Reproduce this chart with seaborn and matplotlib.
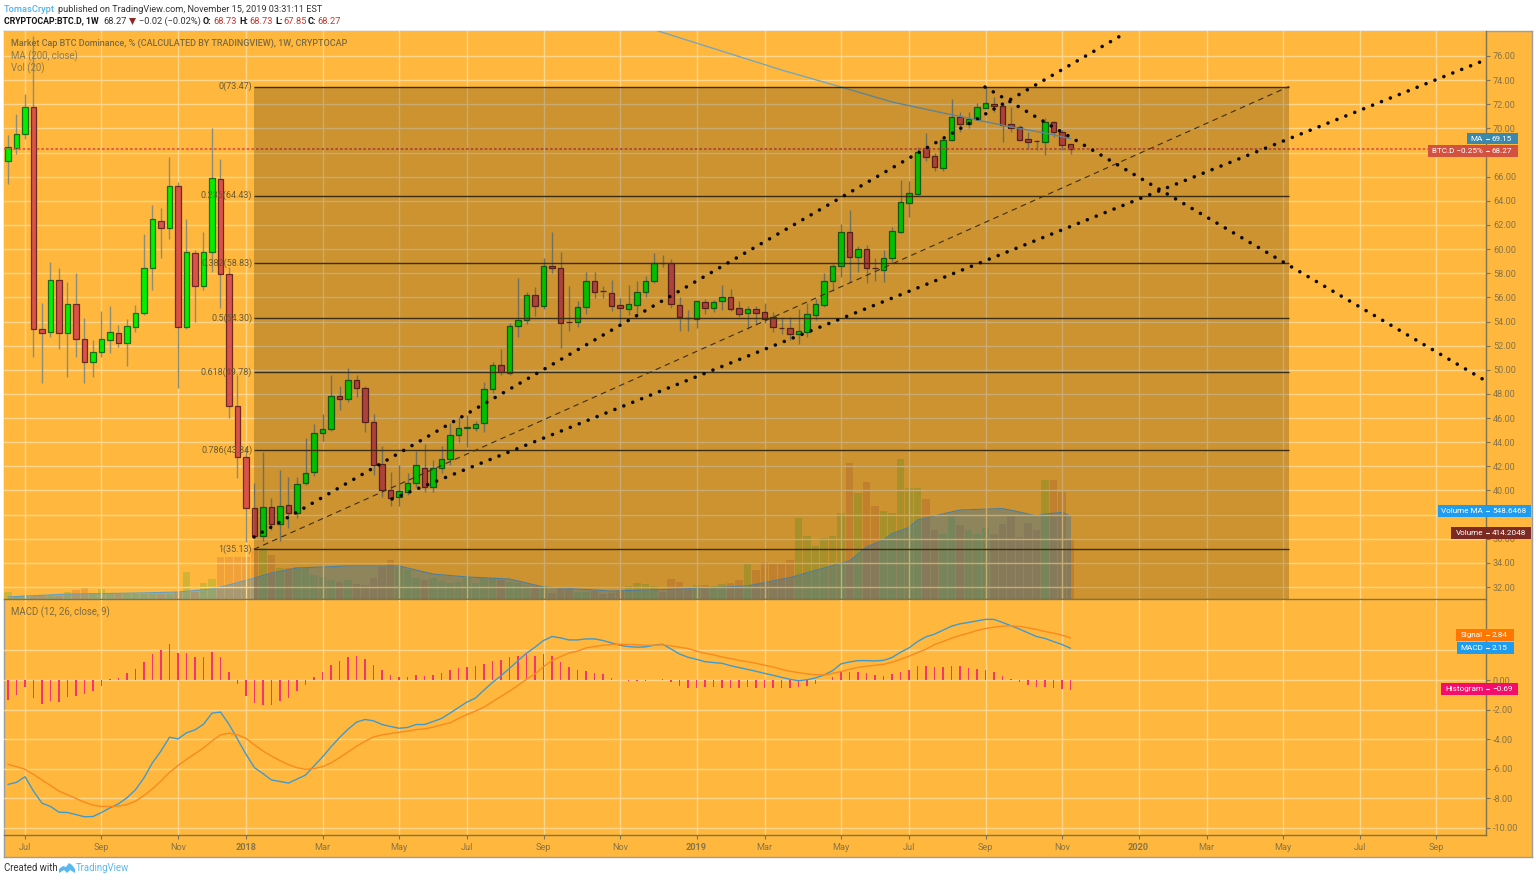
#!/usr/bin/env python3
import numpy as np
import pandas as pd
import matplotlib
matplotlib.use('Agg')
import matplotlib.pyplot as plt
from matplotlib.patches import Rectangle, Polygon
import seaborn as sns

W, H = 1536, 881

# weekly candles, first bar is the week of 2017-06-19
opens = [67.30, 68.38, 69.54, 71.77, 53.38, 53.13, 57.44, 53.05, 55.45, 52.55, 50.65, 51.47, 52.47, 53.05, 52.22, 53.55,
         54.70, 58.44, 62.33, 61.75, 65.23, 53.55, 59.68, 56.94, 59.76, 65.81, 57.94, 47.02, 42.78, 38.55, 36.23, 38.63,
         37.23, 38.80, 38.14, 40.62, 41.53, 44.77, 45.10, 47.83, 47.58, 49.15, 48.49, 45.68, 42.20, 40.04, 39.46, 39.88,
         40.62, 41.86, 40.29, 41.86, 42.61, 44.60, 45.18, 45.18, 45.59, 48.41, 50.40, 49.73, 53.63, 54.13, 56.20, 55.29,
         58.60, 58.44, 53.96, 53.96, 55.21, 57.36, 56.53, 56.36, 55.37, 55.04, 55.37, 56.45, 57.36, 58.85, 58.85, 55.37,
         54.29, 54.21, 55.62, 55.12, 55.70, 56.03, 55.12, 54.70, 55.04, 54.79, 54.38, 53.47, 53.47, 52.97, 53.13, 54.54,
         55.37, 57.36, 58.60, 61.42, 59.35, 60.01, 58.44, 58.27, 59.27, 61.42, 63.82, 64.57, 68.38, 67.72, 66.72, 69.04,
         70.95, 70.37, 70.78, 71.69, 72.02, 71.86, 70.37, 70.12, 69.12, 68.96, 68.88, 70.53, 69.70, 68.73]
closes = [68.46, 69.54, 71.77, 53.38, 53.05, 57.44, 53.05, 55.45, 52.55, 50.65, 51.47, 52.55, 53.13, 52.22, 53.63, 54.70,
          58.44, 62.50, 61.75, 65.23, 53.55, 59.76, 56.94, 59.76, 65.89, 57.94, 47.02, 42.78, 38.55, 36.23, 38.63, 37.23,
          38.72, 38.14, 40.54, 41.45, 44.77, 45.10, 47.83, 47.58, 49.15, 48.49, 45.68, 42.11, 40.04, 39.38, 39.96, 40.62,
          42.11, 40.29, 41.86, 42.61, 44.60, 45.18, 45.25, 45.51, 48.41, 50.40, 49.82, 53.63, 54.13, 56.20, 55.29, 58.60,
          58.44, 53.88, 53.92, 55.21, 57.36, 56.45, 56.50, 55.29, 55.12, 55.45, 56.45, 57.36, 58.85, 58.82, 55.45, 54.38,
          54.27, 55.70, 55.12, 55.62, 56.03, 55.04, 54.62, 55.04, 54.70, 54.21, 53.55, 53.43, 52.97, 53.21, 54.62, 55.45,
          57.36, 58.60, 61.42, 59.35, 60.01, 58.44, 58.40, 59.27, 61.50, 63.90, 64.65, 68.05, 67.63, 66.80, 69.04, 70.95,
          70.37, 70.78, 71.77, 72.11, 71.86, 70.28, 70.03, 69.04, 68.88, 68.94, 70.53, 69.70, 68.63, 68.27]
highs = [69.46, 71.20, 72.85, 77.66, 55.54, 58.93, 58.44, 57.28, 58.02, 54.29, 52.47, 54.87, 55.29, 53.71, 54.21, 55.37,
         61.25, 63.66, 63.41, 67.63, 65.56, 62.50, 59.93, 61.42, 70.03, 67.47, 58.52, 49.57, 43.61, 40.62, 43.19, 39.38,
         41.70, 41.12, 41.12, 44.35, 45.51, 46.34, 49.57, 48.66, 50.15, 49.57, 48.66, 46.34, 43.69, 41.53, 42.11, 41.45,
         43.27, 43.85, 42.53, 43.69, 45.59, 46.09, 46.26, 45.76, 48.99, 50.65, 51.72, 53.88, 57.61, 56.45, 56.86, 59.27,
         61.42, 59.76, 56.94, 55.70, 58.10, 58.10, 56.94, 57.44, 55.95, 57.03, 57.36, 57.77, 59.68, 59.51, 59.18, 56.03,
         54.96, 55.78, 55.87, 55.78, 57.03, 56.69, 55.70, 55.29, 55.29, 55.54, 54.79, 54.38, 54.38, 55.04, 55.54, 55.87,
         58.02, 58.77, 62.08, 63.24, 60.26, 60.34, 59.27, 59.93, 61.83, 65.73, 65.64, 68.46, 69.62, 67.96, 69.29, 72.44,
         71.36, 71.36, 72.11, 73.47, 72.60, 72.11, 71.77, 70.28, 69.70, 69.04, 70.86, 70.61, 69.87, 68.73]
lows = [65.40, 67.88, 69.12, 51.06, 48.91, 52.72, 51.72, 49.41, 51.06, 48.91, 49.41, 51.06, 51.39, 51.89, 50.31, 53.13,
        54.54, 56.61, 59.27, 60.84, 48.50, 53.38, 53.96, 56.61, 58.10, 55.12, 46.01, 41.04, 35.73, 36.07, 35.82, 36.73,
        35.82, 36.90, 37.72, 40.46, 41.20, 44.10, 44.93, 46.67, 47.33, 47.75, 44.85, 41.29, 39.46, 38.72, 38.72, 39.63,
        40.29, 39.88, 39.88, 41.45, 42.11, 44.02, 43.61, 44.93, 44.85, 48.08, 49.57, 49.57, 52.72, 53.80, 54.46, 55.04,
        58.02, 51.81, 53.21, 53.55, 54.62, 55.95, 55.95, 54.87, 53.71, 54.54, 54.54, 56.03, 57.19, 58.52, 55.12, 53.21,
        53.21, 53.47, 54.62, 54.79, 54.96, 54.87, 54.38, 53.38, 53.71, 53.88, 53.13, 52.97, 52.47, 52.14, 52.72, 54.13,
        55.21, 56.53, 57.69, 57.28, 58.10, 57.19, 57.36, 57.28, 58.93, 61.34, 62.66, 64.49, 67.30, 66.47, 66.47, 68.96,
        69.70, 70.03, 70.70, 71.69, 71.36, 68.88, 69.70, 68.96, 68.30, 68.22, 67.80, 69.29, 68.22, 67.85]

volume = [48, 21, 28, 21, 28, 28, 21, 48, 62, 76, 41, 69, 41, 35, 35, 35, 35, 35, 35, 35, 48, 186, 48, 110, 138, 290,
          290, 290, 290, 352, 352, 304, 214, 214, 221, 221, 166, 152, 131, 117, 131, 103, 97, 145, 221, 269, 221, 200,
          145, 131, 145, 124, 110, 117, 145, 110, 145, 145, 131, 117, 110, 97, 90, 90, 41, 76, 69, 48, 48, 55, 35, 41,
          55, 90, 110, 103, 90, 48, 138, 117, 83, 97, 97, 90, 103, 110, 131, 242, 200, 255, 248, 248, 269, 559, 435,
          366, 421, 435, 593, 938, 731, 807, 642, 607, 593, 966, 766, 766, 690, 476, 448, 573, 511, 476, 448, 490, 448,
          518, 573, 428, 525, 476, 821, 821, 738, 414]

# volume MA, read at the weeks where the curve bends
vol_ma_weeks = [0, 7, 15, 20, 24, 26, 29, 31, 34, 40, 46, 50, 54, 59, 63, 71, 79, 87, 92, 99, 101, 103, 104, 106, 107, 109,
                110, 112, 117, 119, 121, 122, 124, 125]
vol_ma = [14, 34, 41, 48, 69, 97, 145, 179, 214, 228, 228, 172, 152, 138, 83, 55, 69, 90, 148, 262, 359, 407, 451, 493,
          545, 573, 587, 614, 624, 600, 573, 587, 597, 573]

# MA 200 on the price pane
ma_weeks = [75, 84, 91, 98, 104, 110, 114, 118, 122, 125]
ma_200 = [78.40, 76.40, 74.84, 73.43, 72.19, 71.28, 70.70, 70.12, 69.62, 69.15]

macd = [-7.06, -6.92, -6.54, -7.51, -8.33, -8.55, -8.94, -8.96, -9.10, -9.25, -9.23, -8.96, -8.64, -8.37, -7.96, -7.42,
        -6.61, -5.59, -4.80, -3.87, -3.98, -3.57, -3.37, -2.99, -2.24, -2.17, -2.99, -4.00, -5.02, -5.93, -6.33, -6.76,
        -6.86, -6.97, -6.70, -6.43, -5.81, -5.20, -4.52, -3.89, -3.33, -2.85, -2.67, -2.76, -3.01, -3.14, -3.26, -3.21,
        -3.01, -3.01, -2.81, -2.60, -2.24, -1.86, -1.49, -1.22, -0.68, -0.16, 0.29, 0.79, 1.31, 1.81, 2.22, 2.67, 2.94,
        2.85, 2.71, 2.71, 2.78, 2.78, 2.67, 2.51, 2.35, 2.26, 2.22, 2.24, 2.35, 2.42, 2.10, 1.76, 1.54, 1.40, 1.24, 1.18,
        1.13, 0.97, 0.84, 0.72, 0.59, 0.45, 0.32, 0.18, 0.05, -0.05, 0.02, 0.14, 0.34, 0.63, 1.09, 1.22, 1.31, 1.31, 1.29,
        1.33, 1.52, 1.88, 2.17, 2.60, 2.92, 3.10, 3.37, 3.64, 3.80, 3.89, 4.00, 4.10, 4.10, 3.89, 3.67, 3.44, 3.19, 2.94,
        2.81, 2.60, 2.40, 2.15]
signal = [-5.70, -5.86, -6.04, -6.38, -6.76, -7.13, -7.51, -7.76, -8.01, -8.26, -8.46, -8.55, -8.55, -8.53, -8.42, -8.19,
          -7.81, -7.35, -6.83, -6.24, -5.79, -5.36, -4.98, -4.59, -4.12, -3.71, -3.60, -3.71, -3.94, -4.39, -4.80, -5.14,
          -5.45, -5.72, -5.93, -6.04, -5.99, -5.86, -5.61, -5.25, -4.86, -4.48, -4.14, -3.85, -3.71, -3.62, -3.53, -3.46,
          -3.35, -3.30, -3.19, -3.03, -2.90, -2.60, -2.33, -2.10, -1.83, -1.47, -1.11, -0.75, -0.36, 0.05, 0.41, 0.90, 1.31,
          1.58, 1.83, 1.95, 2.17, 2.26, 2.35, 2.40, 2.42, 2.40, 2.38, 2.35, 2.35, 2.38, 2.31, 2.22, 2.13, 1.95, 1.81, 1.70,
          1.56, 1.45, 1.33, 1.24, 1.13, 1.00, 0.88, 0.72, 0.59, 0.50, 0.41, 0.36, 0.34, 0.45, 0.57, 0.72, 0.86, 0.93, 1.00,
          1.06, 1.20, 1.40, 1.61, 1.86, 2.08, 2.40, 2.60, 2.83, 3.01, 3.17, 3.35, 3.48, 3.57, 3.64, 3.67, 3.62, 3.53, 3.42,
          3.28, 3.17, 3.03, 2.85]
histogram = [-1.38, -1.00, -0.45, -1.22, -1.61, -1.43, -1.47, -1.18, -1.11, -0.97, -0.75, -0.41, 0.05, 0.16, 0.48, 0.75,
             1.24, 1.79, 2.06, 2.44, 1.83, 1.81, 1.54, 1.54, 1.88, 1.54, 0.57, -0.29, -1.06, -1.56, -1.67, -1.67, -1.45,
             -1.20, -0.77, -0.36, 0.18, 0.57, 1.04, 1.31, 1.56, 1.61, 1.45, 1.04, 0.68, 0.36, 0.23, 0.23, 0.34, 0.29, 0.36,
             0.48, 0.68, 0.81, 0.90, 0.97, 1.11, 1.31, 1.36, 1.54, 1.65, 1.76, 1.65, 1.74, 1.65, 1.22, 0.86, 0.68, 0.63,
             0.48, 0.38, 0.16, 0.02, -0.07, -0.07, -0.07, -0.02, 0.04, -0.16, -0.41, -0.57, -0.57, -0.50, -0.45, -0.52,
             -0.52, -0.52, -0.50, -0.52, -0.52, -0.57, -0.57, -0.57, -0.45, -0.43, -0.27, 0.00, 0.18, 0.52, 0.54, 0.52,
             0.45, 0.34, 0.29, 0.38, 0.54, 0.68, 0.93, 0.95, 0.90, 0.90, 0.97, 0.93, 0.84, 0.72, 0.70, 0.52, 0.29, 0.05,
             -0.16, -0.36, -0.50, -0.50, -0.52, -0.59, -0.69]

price_ticks = list(range(32, 78, 2))
macd_ticks = list(range(-10, 6, 2))
# these scale labels sit behind a value tag in the picture
hidden_price = [38, 68]
hidden_macd = [2]
tick_dates = ['2017-07-03', '2017-09-04', '2017-11-06', '2018-01-01', '2018-03-05', '2018-05-07', '2018-07-02',
              '2018-09-03', '2018-11-05', '2019-01-07', '2019-03-04', '2019-05-06', '2019-07-01', '2019-09-02',
              '2019-11-04', '2020-01-06', '2020-03-02', '2020-05-04', '2020-07-06', '2020-09-07']
tick_labels = ['Jul', 'Sep', 'Nov', '2018', 'Mar', 'May', 'Jul', 'Sep', 'Nov', '2019', 'Mar', 'May', 'Jul', 'Sep',
               'Nov', '2020', 'Mar', 'May', 'Jul', 'Sep']

fib_ratios = ['0', '0.236', '0.382', '0.5', '0.618', '0.786', '1']
fib_levels = [73.47, 64.43, 58.83, 54.30, 49.78, 43.34, 35.13]

ORANGE = '#ffb83d'
GRID = '#fdd68e'
LABEL = '#85744a'
FONT = 'Roboto'

sns.set_theme(style='white')
plt.rcParams['font.family'] = [FONT, 'DejaVu Sans']
plt.rcParams['axes.unicode_minus'] = False

fig = plt.figure(figsize=(W / 100, H / 100), dpi=100, facecolor='white')


def px_rect(x0, y0, x1, y1):
    return [x0 / W, 1 - y1 / H, (x1 - x0) / W, (y1 - y0) / H]


def put(x, y, s, **kw):
    kw.setdefault('va', 'center')
    return fig.text(x / W, 1 - y / H, s, **kw)


def price_label(x0, x1, y0, y1, color, name, value, axis_x=1486):
    fig.add_artist(Rectangle((x0 / W, 1 - y1 / H), (x1 - x0) / W, (y1 - y0) / H, transform=fig.transFigure,
                             facecolor=color, edgecolor='none', zorder=10))
    mid = (y0 + y1) / 2
    put(axis_x - 3, mid, name, ha='right', color='white', fontsize=5.9, zorder=11)
    put(axis_x + 6, mid, value, ha='left', color='white', fontsize=5.9, zorder=11)
    fig.add_artist(plt.Line2D([axis_x / W, (axis_x + 3) / W], [1 - mid / H] * 2, transform=fig.transFigure,
                              color='white', lw=0.8, zorder=11))


# outer frame with the scale strip
bg = fig.add_axes(px_rect(4, 31, 1532, 857), zorder=0, facecolor=ORANGE)
bg.set_xticks([])
bg.set_yticks([])
for s in bg.spines.values():
    s.set_color('#9c9c9c')
    s.set_linewidth(1.0)

weeks_index = np.arange(len(opens))
start = pd.Timestamp('2017-06-19')
tick_pos = [(pd.Timestamp(d) - start).days / 7 for d in tick_dates]
xlim = (-0.47, 173.88)

# volume goes under the price pane
ax_vol = fig.add_axes(px_rect(4, 31, 1486, 599), zorder=1, facecolor=ORANGE)
vol_df = pd.DataFrame({'week': weeks_index, 'volume': volume,
                       'up': ['up' if c >= o else 'down' for o, c in zip(opens, closes)]})
sns.barplot(data=vol_df, x='week', y='volume', hue='up', palette={'up': '#2fa81a', 'down': '#c2502f'},
            hue_order=['up', 'down'], native_scale=True, dodge=False, width=0.92, alpha=0.22, saturation=1,
            legend=False, ax=ax_vol, linewidth=0)
ax_vol.fill_between(vol_ma_weeks, vol_ma, color='#3f8fc9', alpha=0.4, lw=0, zorder=3)
sns.lineplot(x=vol_ma_weeks, y=vol_ma, color='#5f9dc4', lw=0.8, ax=ax_vol, errorbar=None, zorder=3)
ax_vol.set_xlim(*xlim)
ax_vol.set_ylim(0, 3919)
ax_vol.set_xticks([])
ax_vol.set_yticks([])
ax_vol.set_xlabel('')
ax_vol.set_ylabel('')
for s in ax_vol.spines.values():
    s.set_visible(False)

# price pane
ax = fig.add_axes(px_rect(4, 31, 1486, 599), zorder=2, facecolor='none')
ax.set_xlim(*xlim)
ax.set_ylim(31.01, 78.07)
for y in price_ticks:
    ax.axhline(y, color=GRID, lw=1.0, zorder=0.5)
for x in tick_pos:
    ax.axvline(x, color=GRID, lw=1.0, zorder=0.5)

up_green = '#00f000'
down_red = '#d9534a'
ax.vlines(weeks_index, lows, highs, color='#8d8d78', lw=1.0, zorder=2)
body_bottom = np.minimum(opens, closes)
body_height = np.abs(np.array(closes) - np.array(opens))
body_colors = [up_green if c >= o else down_red for o, c in zip(opens, closes)]
edge_colors = ['#1d6b1d' if c >= o else '#6d2a22' for o, c in zip(opens, closes)]
ax.bar(weeks_index, body_height, bottom=body_bottom, width=0.66, color=body_colors, edgecolor=edge_colors,
       linewidth=0.9, zorder=3)

sns.lineplot(x=ma_weeks, y=ma_200, color='#7aa6b8', lw=1.0, ax=ax, errorbar=None, zorder=4)
ax.axhline(68.27, color='#d9534a', lw=1.2, ls=(0, (1.6, 1.2)), zorder=4)

# fibonacci box sits over candles and darkens them, shade runs down to the pane bottom
fib_left, fib_right = 28.94, 150.7
pane_bottom = ax.get_ylim()[0]
ax.add_patch(Rectangle((fib_left, pane_bottom), fib_right - fib_left, fib_levels[0] - pane_bottom,
                       facecolor='black', alpha=0.2, edgecolor='none', zorder=5))
ax.hlines(fib_levels, fib_left, fib_right, color='#3b2e14', lw=1.0, zorder=6)
for ratio, level in zip(fib_ratios, fib_levels):
    ax.text(fib_left - 0.2, level, f'{ratio}({level:.2f})', ha='right', va='center', color='#6b5a30', fontsize=6.5, zorder=6)

ax.plot([fib_left, fib_right], [35.13, 73.47], color='#3b2e14', lw=0.8, ls=(0, (5, 4)), zorder=6)
dot_style = dict(color='#0a0a0a', lw=2.6, ls=(0, (0.01, 2.65)), dash_capstyle='round', zorder=7)
ax.plot([28.94, 131.06], [36.15, 77.74], **dot_style)
ax.plot([45.18, 173.5], [39.30, 75.59], **dot_style)
ax.plot([114.94, 173.88], [73.43, 49.07], **dot_style)

ax.set_xticks([])
ax.yaxis.tick_right()
ax.set_yticks(price_ticks)
ax.set_yticklabels(['' if y in hidden_price else f'{y:.2f}' for y in price_ticks])
ax.tick_params(axis='y', length=3, width=0.8, color=LABEL, labelcolor=LABEL, labelsize=6.6, pad=2, right=True)
for name, s in ax.spines.items():
    s.set_visible(name in ('right', 'bottom'))
    s.set_color('#7f7350')
    s.set_linewidth(1.0)

# macd pane
ax_m = fig.add_axes(px_rect(4, 600, 1486, 835), zorder=2, facecolor='none')
ax_m.set_xlim(*xlim)
ax_m.set_ylim(-10.48, 5.41)
for y in macd_ticks[:-1]:
    ax_m.axhline(y, color=GRID, lw=1.0, zorder=0.5)
for x in tick_pos:
    ax_m.axvline(x, color=GRID, lw=1.0, zorder=0.5)
ax_m.bar(weeks_index, histogram, width=0.17, color='#f5356f', edgecolor='none', linewidth=0, zorder=2)
sns.lineplot(x=weeks_index, y=macd, color='#3f9ad0', lw=1.0, ax=ax_m, errorbar=None, zorder=3)
sns.lineplot(x=weeks_index, y=signal, color='#f98a1e', lw=1.0, ax=ax_m, errorbar=None, zorder=3)
ax_m.yaxis.tick_right()
ax_m.set_yticks(macd_ticks[:-1])
ax_m.set_yticklabels(['' if y in hidden_macd else f'{y:.2f}' for y in macd_ticks[:-1]])
ax_m.tick_params(axis='y', length=3, width=0.8, color=LABEL, labelcolor=LABEL, labelsize=6.6, pad=2, right=True)
ax_m.set_xticks(tick_pos)
ax_m.set_xticklabels(tick_labels)
ax_m.tick_params(axis='x', length=3, width=0.8, color=LABEL, labelcolor=LABEL, labelsize=6.6, pad=3, bottom=True)
for lab in ax_m.get_xticklabels():
    if lab.get_text().startswith('20'):
        lab.set_fontweight('bold')
for name, s in ax_m.spines.items():
    s.set_visible(name in ('right', 'bottom'))
    s.set_color('#7f7350')
    s.set_linewidth(1.0)

# header
put(4, 9, 'TomasCrypt', color='#4db4f0', fontsize=6.7, fontweight='medium')
put(58, 9, 'published on TradingView.com, November 15, 2019 03:31:11 EST', color='#333333', fontsize=6.55)
put(4, 21, 'CRYPTOCAP:BTC.D, 1W', color='#111111', fontsize=6.35, fontweight='bold')
put(103, 21, '68.27', color='#333333', fontsize=6.7)
fig.add_artist(Polygon([(129 / W, 1 - 18 / H), (136 / W, 1 - 18 / H), (132.5 / W, 1 - 25 / H)],
                       transform=fig.transFigure, facecolor='#8b2a22', edgecolor='none'))
put(139, 21, '\u22120.02 (\u22120.02%)', color='#333333', fontsize=6.7)
for x, s in [(203, 'O:'), (239, 'H:'), (275, 'L:'), (308, 'C:')]:
    put(x, 21, s, color='#111111', fontsize=6.5, fontweight='bold')
for x, s in [(213, '68.73'), (249, '68.73'), (283, '67.85'), (317, '68.27')]:
    put(x, 21, s, color='#c8352c', fontsize=6.7)

# pane titles
put(11, 43, 'Market Cap BTC Dominance, % (CALCULATED BY TRADINGVIEW), 1W, CRYPTOCAP', color='#7a6a44', fontsize=6.45,
    fontweight='medium', zorder=12)
put(11, 56, 'MA (200, close)', color='#8c7a4c', fontsize=6.9, zorder=12)
put(11, 68, 'Vol (20)', color='#8c7a4c', fontsize=6.9, zorder=12)
put(11, 612, 'MACD (12, 26, close, 9)', color='#7a6a44', fontsize=6.9, zorder=12)

# value tags on the scale
price_label(1467, 1518, 133, 144, '#3b88ad', 'MA', '69.15')
price_label(1428, 1518, 145, 157, '#d4503f', 'BTC.D \u22120.25%', '68.27')
price_label(1438, 1531, 505, 517, '#1e9cf0', 'Volume MA', '548.6468')
price_label(1451, 1531, 527, 539, '#7d2b22', 'Volume', '414.2048')
price_label(1456, 1514, 629, 641, '#ff7700', 'Signal', '2.84')
price_label(1457, 1514, 642, 654, '#1e9cf0', 'MACD', '2.15')
price_label(1441, 1518, 683, 695, '#f50d6b', 'Histogram', '\u22120.69')

# footer
put(4, 868, 'Created with', color='#333333', fontsize=6.9)
cloud = [(59, 873), (59, 869), (63, 866), (66, 867), (69, 863), (72, 865), (75, 869), (75, 873), (70, 870), (67, 873), (64, 870)]
fig.add_artist(Polygon([(x / W, 1 - y / H) for x, y in cloud], transform=fig.transFigure, facecolor='#5bb8ee',
                       edgecolor='none'))
put(76, 868, 'TradingView', color='#5bb8ee', fontsize=6.9)

fig.savefig('out.png', dpi=100, facecolor='white')
